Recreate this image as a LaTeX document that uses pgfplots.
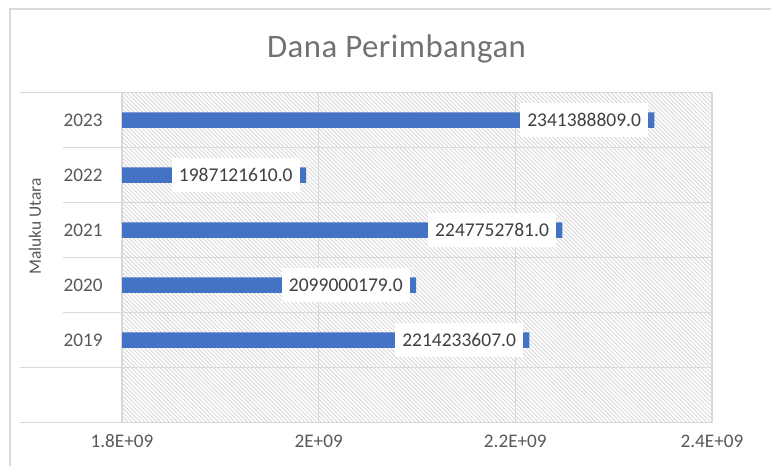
\documentclass[border=0pt]{standalone}
\usepackage{fontspec}
\setmainfont{Carlito}
\newfontfamily\titlefont[LetterSpace=1.5]{Carlito}
\usepackage{pgfplots}
\pgfplotsset{compat=1.18}
\usepackage{pgfplotstable}
\usetikzlibrary{patterns.meta}

\definecolor{barblue}{HTML}{4472C4}
\definecolor{gridc}{HTML}{D9D9D9}
\definecolor{txt}{HTML}{595959}
\definecolor{lbl}{HTML}{404040}
\definecolor{hatch}{HTML}{D4D4D4}

% y: 0 = empty slot, 1..5 = 2019..2023
\pgfplotstableread{
y x lab
1 2214233607 2214233607.0
2 2099000179 2099000179.0
3 2247752781 2247752781.0
4 1987121610 1987121610.0
5 2341388809 2341388809.0
}\dana

\begin{document}
\begin{tikzpicture}
% canvas 771x466 px at 0.5pt per px
\path[use as bounding box, fill=white] (0,0) rectangle (385.5pt,233pt);
\draw[gridc, line width=0.7pt] (5pt,0) -- (5pt,228.5pt) -- (385.5pt,228.5pt);

\node[anchor=base, text=txt!85, font=\titlefont\fontsize{16.4}{19}\selectfont] at (198.25pt,204pt) {Dana Perimbangan};

\begin{axis}[
    at={(61pt,21.75pt)}, anchor=south west,
    scale only axis, width=295pt, height=165pt,
    xbar, bar width=7.75pt,
    xmin=1.8e9, xmax=2.4e9,
    ymin=-0.5, ymax=5.5,
    xtick={1.8e9,2.0e9,2.2e9,2.4e9},
    xticklabels={1.8E+09,2E+09,2.2E+09,2.4E+09},
    ytick={1,2,3,4,5},
    yticklabels={2019,2020,2021,2022,2023},
    minor ytick={-0.5,0.5,1.5,2.5,3.5,4.5,5.5},
    xmajorgrids, yminorgrids,
    major grid style={gridc, line width=0.7pt},
    minor grid style={gridc, line width=0.7pt},
    major tick length=0pt, minor tick length=0pt,
    axis line style={gridc, line width=0.7pt},
    axis background/.style={pattern={Lines[angle=-45,distance=1.45pt,line width=0.4pt]}, pattern color=hatch},
    tick label style={text=txt, font=\fontsize{9.6}{11}\selectfont},
    xticklabel style={anchor=center, yshift=-9.25pt},
    yticklabel style={anchor=east, inner sep=0pt, xshift=-9.5pt},
    point meta=explicit symbolic,
    nodes near coords,
    every node near coord/.append style={anchor=east, xshift=-3pt, fill=white,
        inner xsep=3.5pt, inner ysep=5.3pt, text=lbl, font=\fontsize{9.75}{11}\selectfont},
]
\addplot[fill=barblue, draw=none] table[x=x, y=y, meta=lab] {\dana};
\end{axis}

% category dividers extended into the label area
\draw[gridc, line width=0.7pt] (10pt,186.75pt) -- (61pt,186.75pt);
\draw[gridc, line width=0.7pt] (10pt,49.25pt) -- (61pt,49.25pt);
\draw[gridc, line width=0.7pt] (10pt,21.75pt) -- (61pt,21.75pt);
\foreach \yy in {159.25,131.75,104.25,76.75}
  \draw[gridc, line width=0.7pt] (31.5pt,\yy pt) -- (61pt,\yy pt);

\node[rotate=90, text=txt, font=\fontsize{8.7}{10}\selectfont] at (17.5pt,119.7pt) {Maluku Utara};
\end{tikzpicture}
\end{document}
